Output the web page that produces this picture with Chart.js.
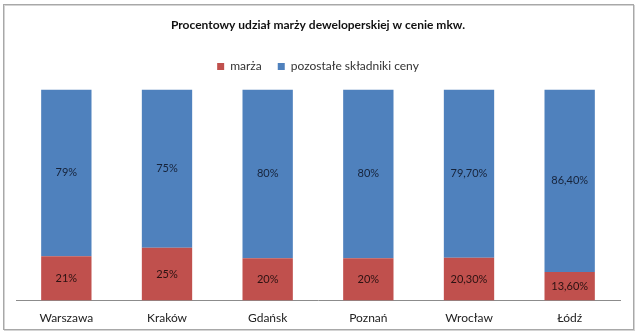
<!DOCTYPE html>
<html lang="pl">
<head>
<meta charset="utf-8">
<title>Procentowy udział marży deweloperskiej w cenie mkw.</title>
<script src="https://cdn.jsdelivr.net/npm/chart.js@4.4.1/dist/chart.umd.min.js"></script>
<style>
  html, body { margin: 0; padding: 0; background: #fff; }
  #wrap { width: 640px; height: 335px; position: relative; }
</style>
</head>
<body>
<div id="wrap"><canvas id="chart" width="640" height="335"></canvas></div>
<script>
// ── Dane ─────────────────────────────────────────────────────
const miasta    = ['Warszawa', 'Kraków', 'Gdańsk', 'Poznań', 'Wrocław', 'Łódź'];
const marza     = [21, 25, 20, 20, 20.3, 13.6];
const pozostale = [79, 75, 80, 80, 79.7, 86.4];

const FONT = 'Lato, "Liberation Sans", sans-serif';

// 21 -> "21%", 20.3 -> "20,30%"
function fmtProc(v) {
  return Number.isInteger(v) ? `${v}%` : `${v.toFixed(2).replace('.', ',')}%`;
}

// ── Ramka i tło ──────────────────────────────────────────────
const ramka = {
  id: 'ramka',
  beforeDraw(chart) {
    const { ctx, width, height } = chart;
    ctx.save();
    ctx.fillStyle = '#fff';
    ctx.fillRect(0, 0, width, height);
    ctx.strokeStyle = '#d4d4d4';
    ctx.lineWidth = 1;
    ctx.strokeRect(4.5, 5.5, 630, 325);
    ctx.strokeStyle = '#a8a8a8';
    ctx.strokeRect(3.5, 4.5, 630, 325);
    ctx.restore();
  }
};

// ── Dodatkowy odstęp pod legendą ─────────────────────────────
const odstepLegendy = {
  id: 'odstepLegendy',
  beforeInit(chart) {
    const fit = chart.legend.fit;
    chart.legend.fit = function () {
      fit.call(this);
      this.height += 7;
    };
  }
};

// ── Etykiety wartości w środku słupków ───────────────────────
const etykiety = {
  id: 'etykiety',
  afterDatasetsDraw(chart) {
    const { ctx } = chart;
    ctx.save();
    ctx.font = `11px ${FONT}`;
    ctx.textAlign = 'center';
    ctx.textBaseline = 'middle';
    chart.data.datasets.forEach((ds, i) => {
      const meta = chart.getDatasetMeta(i);
      ctx.fillStyle = ds.labelColor;
      meta.data.forEach((bar, j) => {
        const y = (bar.y + bar.base) / 2;
        ctx.fillText(fmtProc(ds.data[j]), bar.x, y);
      });
    });
    ctx.restore();
  }
};

new Chart(document.getElementById('chart'), {
  type: 'bar',
  data: {
    labels: miasta,
    datasets: [
      { label: 'marża', data: marza, backgroundColor: '#C0504D', labelColor: '#2b1212' },
      { label: 'pozostałe składniki ceny', data: pozostale, backgroundColor: '#4F81BD', labelColor: '#16233a' }
    ]
  },
  options: {
    responsive: false,
    animation: false,
    layout: { padding: { left: 16, right: 20, top: 0, bottom: 0 } },
    datasets: { bar: { barPercentage: 0.5, categoryPercentage: 1.0 } },
    scales: {
      x: {
        stacked: true,
        grid: { display: false, drawTicks: false },
        border: { display: true, color: '#8c8c8c' },
        ticks: { color: '#222', font: { family: FONT, size: 12 }, padding: 10 }
      },
      y: { stacked: true, display: false, min: 0, max: 100 }
    },
    plugins: {
      title: {
        display: true,
        text: 'Procentowy udział marży deweloperskiej w cenie mkw.',
        color: '#111',
        font: { family: FONT, size: 12, weight: 'bold' },
        padding: { top: 18, bottom: 12 }
      },
      legend: {
        position: 'top',
        labels: {
          boxWidth: 7, boxHeight: 7, padding: 16,
          color: '#333',
          font: { family: FONT, size: 12 }
        }
      },
      tooltip: { enabled: false }
    }
  },
  plugins: [ramka, odstepLegendy, etykiety]
});
</script>
</body>
</html>
